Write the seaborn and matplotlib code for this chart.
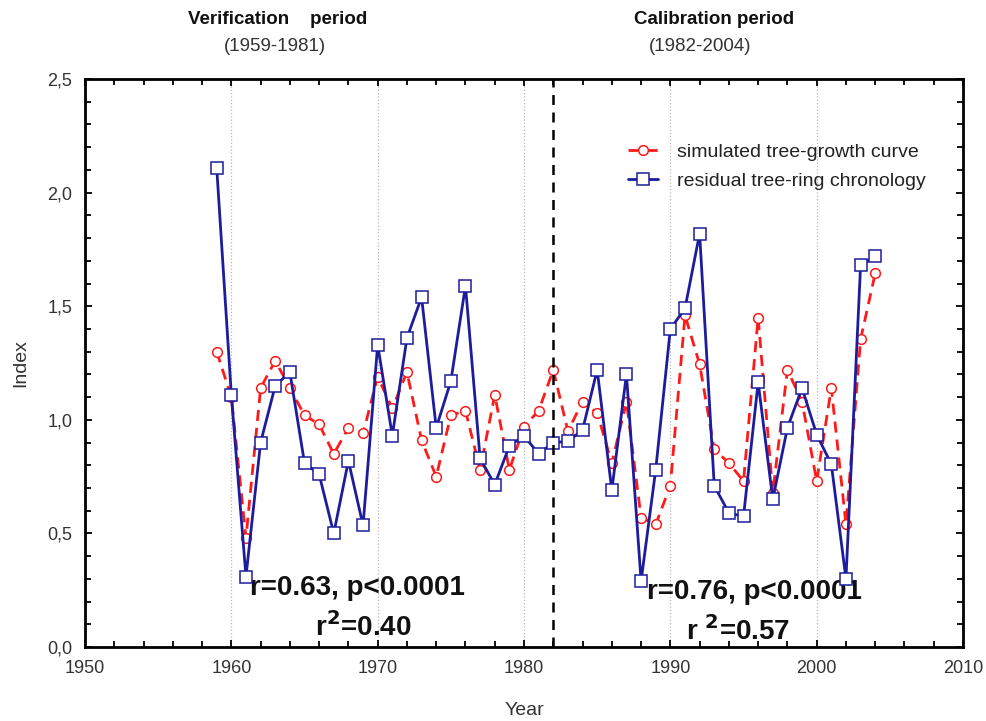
import matplotlib
matplotlib.use("Agg")
import matplotlib.pyplot as plt
from matplotlib.ticker import FuncFormatter, MultipleLocator
import numpy as np
import pandas as pd
import seaborn as sns


years = list(range(1959, 2005))

simulated = [
    1.30, 1.10, 0.48, 1.14, 1.26, 1.14, 1.02, 0.98, 0.85, 0.965,
    0.94, 1.19, 1.05, 1.21, 0.91, 0.75, 1.02, 1.04, 0.78, 1.11,
    0.78, 0.97, 1.04, 1.22, 0.95, 1.08, 1.03, 0.81, 1.08, 0.57,
    0.54, 0.71, 1.46, 1.245, 0.87, 0.81, 0.73, 1.45, 0.68, 1.22,
    1.08, 0.73, 1.14, 0.54, 1.355, 1.645,
]

residual = [
    2.11, 1.11, 0.31, 0.90, 1.15, 1.21, 0.81, 0.76, 0.50, 0.82,
    0.535, 1.33, 0.93, 1.36, 1.54, 0.965, 1.17, 1.59, 0.83, 0.715,
    0.885, 0.93, 0.85, 0.90, 0.905, 0.955, 1.22, 0.69, 1.20, 0.29,
    0.78, 1.40, 1.49, 1.82, 0.71, 0.59, 0.575, 1.165, 0.65, 0.965,
    1.14, 0.935, 0.805, 0.30, 1.68, 1.72,
]

split_year = 1982


def comma(v, pos):
    return ("%.1f" % v).replace(".", ",")


def main():
    sns.set_style("ticks")
    plt.rcParams["font.family"] = ["Liberation Sans", "DejaVu Sans"]

    df = pd.DataFrame({"year": years, "sim": simulated, "res": residual})

    fig = plt.figure(figsize=(9.86, 7.21), dpi=100)
    ax = fig.add_axes([0.0862, 0.1026, 0.8905, 0.7878])

    sns.lineplot(df, x="year", y="sim", ax=ax, color="#ff1a1a", lw=2.0,
                 linestyle=(0, (4, 2.5)), marker="o", markersize=7,
                 markerfacecolor="white", markeredgecolor="#ff1a1a",
                 markeredgewidth=1.1, label="simulated tree-growth curve",
                 zorder=3)
    sns.lineplot(df, x="year", y="res", ax=ax, color="#1c1c9c", lw=2.0,
                 marker="s", markersize=8.5, markerfacecolor="white",
                 markeredgecolor="#1c1c9c", markeredgewidth=1.1,
                 label="residual tree-ring chronology", zorder=4)

    ax.axvline(split_year, color="black", lw=1.8, ls=(0, (4, 3)), zorder=5)

    ax.set_xlim(1950, 2010)
    ax.set_ylim(0, 2.5)
    ax.xaxis.set_major_locator(MultipleLocator(10))
    ax.xaxis.set_minor_locator(MultipleLocator(2))
    ax.yaxis.set_major_locator(MultipleLocator(0.5))
    ax.yaxis.set_minor_locator(MultipleLocator(0.1))
    ax.yaxis.set_major_formatter(FuncFormatter(comma))
    ax.grid(axis="x", which="major", color="#b8b8b8", ls=":", lw=0.9)

    ax.tick_params(which="both", direction="in", top=True, right=True,
                   color="black", labelcolor="#333333", labelsize=13, pad=9)
    ax.tick_params(which="major", length=5, width=1.3)
    ax.tick_params(which="minor", length=4, width=1.3)
    for s in ax.spines.values():
        s.set_linewidth(2)
        s.set_color("black")

    ax.set_xlabel("Year", fontsize=14, color="#333333", labelpad=18)
    ax.set_ylabel("Index", fontsize=14, color="#333333", labelpad=13)

    leg = ax.legend(loc="upper left", bbox_to_anchor=(0.61, 0.9), frameon=False,
                    fontsize=14, handlelength=1.5, handletextpad=1.0,
                    labelspacing=0.55, borderaxespad=0)
    for t in leg.get_texts():
        t.set_color("#222222")

    fig.text(0.282, 0.973, "Verification    period", ha="center", va="center",
             fontsize=13.5, fontweight="bold", color="#111111")
    fig.text(0.279, 0.936, "(1959-1981)", ha="center", va="center",
             fontsize=13.5, color="#333333")
    fig.text(0.724, 0.973, "Calibration period", ha="center", va="center",
             fontsize=13.5, fontweight="bold", color="#111111")
    fig.text(0.710, 0.936, "(1982-2004)", ha="center", va="center",
             fontsize=13.5, color="#333333")

    ax.text(1961.3, 0.26, "r=0.63, p<0.0001", ha="left", va="center",
            fontsize=20, fontweight="bold", color="#111111")
    ax.text(1969.0, 0.09, r"r$^{\mathbf{2}}$=0.40", ha="center", va="center",
            fontsize=20, fontweight="bold", color="#111111")
    ax.text(1988.4, 0.24, "r=0.76, p<0.0001", ha="left", va="center",
            fontsize=20, fontweight="bold", color="#111111")
    ax.text(1994.6, 0.07, r"r $^{\mathbf{2}}$=0.57", ha="center", va="center",
            fontsize=20, fontweight="bold", color="#111111")

    fig.savefig("out.png", dpi=100)


if __name__ == "__main__":
    main()
